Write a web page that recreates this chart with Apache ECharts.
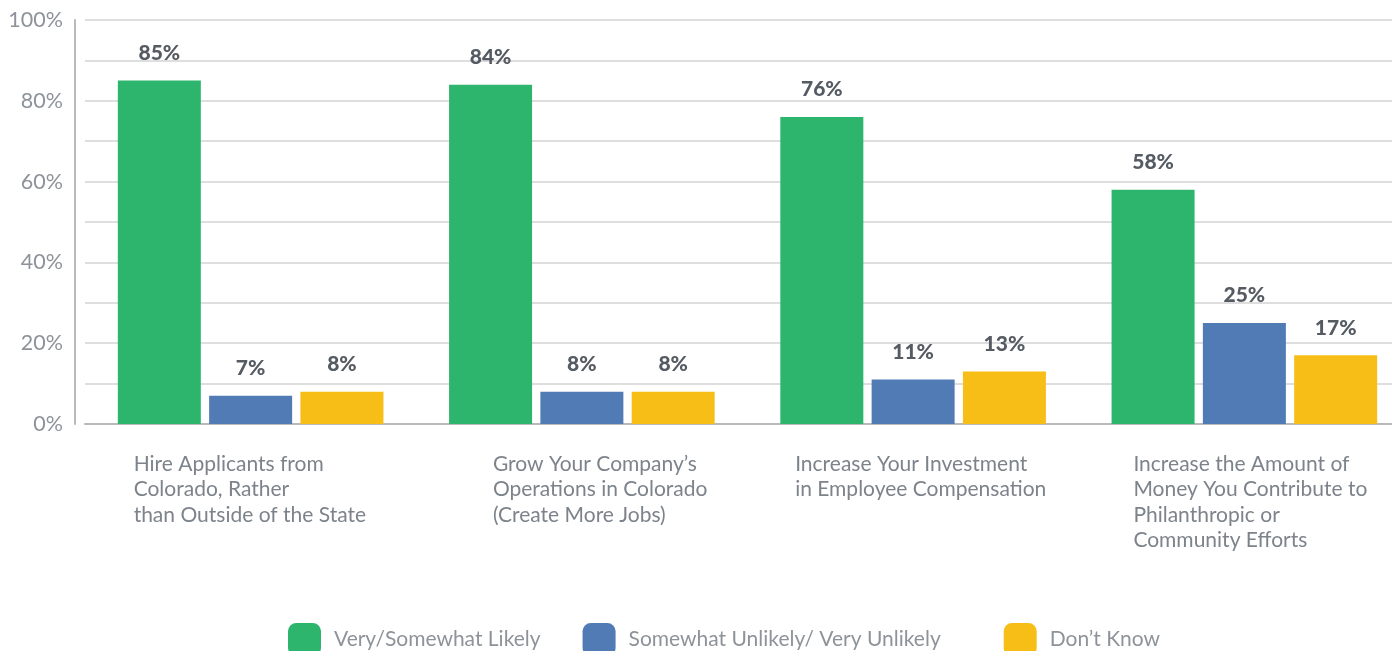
<!DOCTYPE html>
<html>
<head>
<meta charset="utf-8">
<script src="https://cdn.jsdelivr.net/npm/echarts@6/dist/echarts.min.js"></script>
<style>
  html, body { margin: 0; padding: 0; background: #fff; }
  #chart { width: 1392px; height: 651px; }
</style>
</head>
<body>
<div id="chart"></div>
<script>
// data
var categories = [
  'Hire Applicants from\nColorado, Rather\nthan Outside of the State',
  'Grow Your Company\u2019s\nOperations in Colorado\n(Create More Jobs)',
  'Increase Your Investment\nin Employee Compensation',
  'Increase the Amount of\nMoney You Contribute to\nPhilanthropic or\nCommunity Efforts'
];
var seriesNames = ['Very/Somewhat Likely', 'Somewhat Unlikely/ Very Unlikely', 'Don\u2019t Know'];
var likely = [85, 84, 76, 58];
var unlikely = [7, 8, 11, 25];
var dontKnow = [8, 8, 13, 17];

var colors = ['#2db46d', '#507bb5', '#f6be17'];
var labelPad = [13, 41, 12, 19]; // shifts category text to the left edge seen in the picture

var chart = echarts.init(document.getElementById('chart'));

function barSeries(name, data, color) {
  return {
    name: name,
    type: 'bar',
    data: data,
    barWidth: 83,
    barGap: '10%',
    itemStyle: { color: color },
    label: {
      show: true,
      position: 'top',
      distance: 17,
      formatter: '{c}%',
      fontFamily: 'Lato',
      fontWeight: 900,
      fontSize: 21,
      color: '#555b63'
    }
  };
}

var rich = {};
labelPad.forEach(function (p, i) {
  rich['l' + i] = {
    align: 'left',
    fontFamily: 'Lato',
    fontSize: 21,
    lineHeight: 25.5,
    color: '#7d838b',
    padding: [0, 0, 0, p]
  };
});

var option = {
  animation: false,
  backgroundColor: '#fff',
  textStyle: { fontFamily: 'Lato' },
  grid: { left: 85, right: -18, top: 20, bottom: 227, outerBoundsMode: 'none' },
  legend: {
    left: 283,
    top: 618,
    icon: 'roundRect',
    itemWidth: 33,
    itemHeight: 33,
    itemGap: 42,
    formatter: function (name) {
      // the picture leaves a wider gap after the second item
      return name === seriesNames[1] ? name + '\u00a0\u00a0\u00a0\u00a0' : name;
    },
    textStyle: { fontFamily: 'Lato', fontSize: 21, color: '#8e9399', padding: [0, 0, 0, 8] },
    data: seriesNames
  },
  xAxis: {
    type: 'category',
    data: categories,
    axisLine: { show: true, lineStyle: { color: '#b9b9bd', width: 2 } },
    axisTick: { show: false },
    axisLabel: {
      interval: 0,
      margin: 27,
      width: 260,
      align: 'center',
      verticalAlign: 'top',
      formatter: function (v, idx) {
        return v.split('\n').map(function (s) { return '{l' + idx + '|' + s + '}'; }).join('\n');
      },
      rich: rich
    }
  },
  yAxis: {
    type: 'value',
    min: 0,
    max: 100,
    interval: 10,
    offset: 10,
    axisLine: { show: true, lineStyle: { color: '#b9b9bd', width: 2 } },
    axisTick: { show: false },
    splitLine: { lineStyle: { color: '#dedede', width: 2 } },
    axisLabel: {
      margin: 12,
      fontFamily: 'Lato',
      fontSize: 21.5,
      color: '#8e9399',
      formatter: function (v) { return v % 20 === 0 ? v + '%' : ''; }
    }
  },
  series: [
    barSeries(seriesNames[0], likely, colors[0]),
    barSeries(seriesNames[1], unlikely, colors[1]),
    barSeries(seriesNames[2], dontKnow, colors[2])
  ]
};

chart.setOption(option);
</script>
</body>
</html>
